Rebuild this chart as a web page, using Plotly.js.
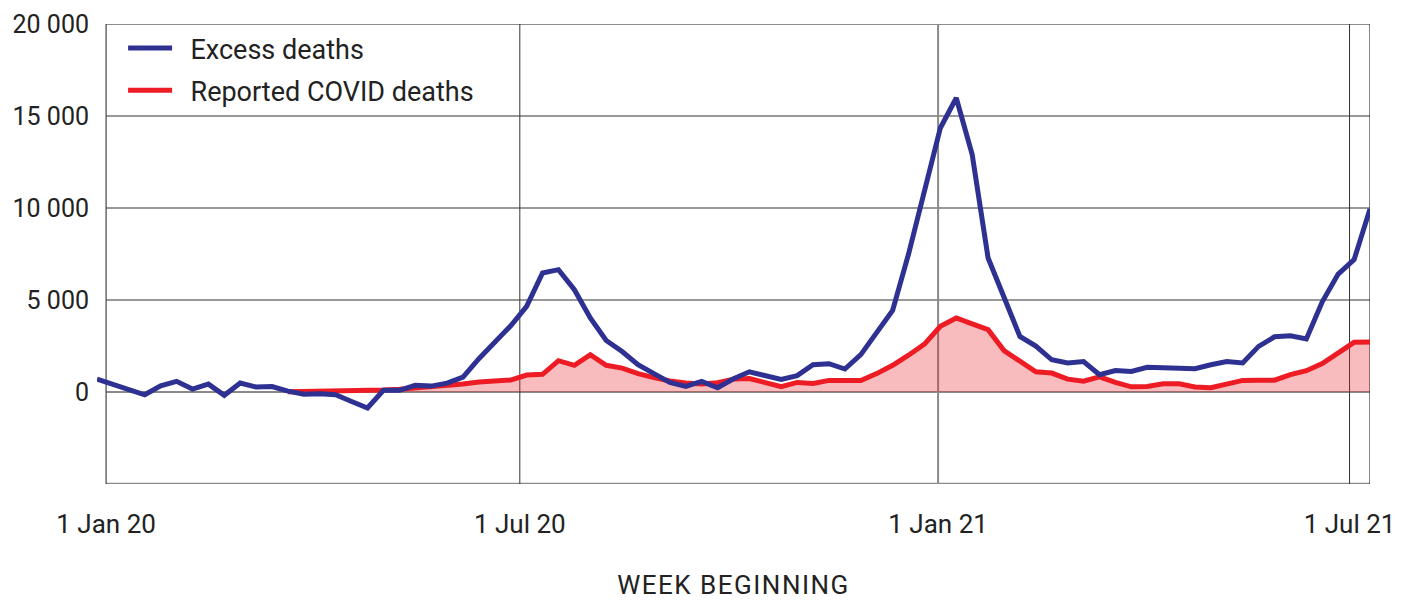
<!DOCTYPE html>
<html>
<head>
<meta charset="utf-8">
<script src="https://cdn.plot.ly/plotly-3.0.1.min.js"></script>
<style>
  html, body { margin: 0; padding: 0; background: #fff; }
  #chart { width: 1403px; height: 601px; }
  .xtitle { letter-spacing: 1.5px; }
</style>
</head>
<body>
<div id="chart"></div>
<script>
const weeks = [
  "2019-12-28","2020-01-04","2020-01-11","2020-01-18","2020-01-25","2020-02-01","2020-02-08","2020-02-15",
  "2020-02-22","2020-02-29","2020-03-07","2020-03-14","2020-03-21","2020-03-28","2020-04-04","2020-04-11",
  "2020-04-18","2020-04-25","2020-05-02","2020-05-09","2020-05-16","2020-05-23","2020-05-30","2020-06-06",
  "2020-06-13","2020-06-20","2020-06-27","2020-07-04","2020-07-11","2020-07-18","2020-07-25","2020-08-01",
  "2020-08-08","2020-08-15","2020-08-22","2020-08-29","2020-09-05","2020-09-12","2020-09-19","2020-09-26",
  "2020-10-03","2020-10-10","2020-10-17","2020-10-24","2020-10-31","2020-11-07","2020-11-14","2020-11-21",
  "2020-11-28","2020-12-05","2020-12-12","2020-12-19","2020-12-26","2021-01-02","2021-01-09","2021-01-16",
  "2021-01-23","2021-01-30","2021-02-06","2021-02-13","2021-02-20","2021-02-27","2021-03-06","2021-03-13",
  "2021-03-20","2021-03-27","2021-04-03","2021-04-10","2021-04-17","2021-04-24","2021-05-01","2021-05-08",
  "2021-05-15","2021-05-22","2021-05-29","2021-06-05","2021-06-12","2021-06-19","2021-06-26","2021-07-03",
  "2021-07-10"
];

const excessDeaths = [
  700, 420, 130, -150, 340, 580, 160, 430,
  -180, 490, 270, 300, 50, -120, -90, -150,
  -520, -870, 90, 90, 360, 320, 480, 810,
  1810, 2700, 3600, 4650, 6470, 6650, 5560, 4020,
  2800, 2200, 1480, 1000, 520, 300, 580, 230,
  720, 1100, 900, 680, 890, 1480, 1540, 1250,
  2030, 3200, 4430, 7500, 10800, 14350, 15980, 12900,
  7280, 5200, 3020, 2500, 1750, 1580, 1660, 940,
  1170, 1120, 1340, 1320, 1300, 1270, 1480, 1660,
  1580, 2480, 3000, 3060, 2880, 4900, 6410, 7190,
  9950
];

const covidDeaths = [
  null, null, null, null, null, null, null, null,
  null, null, null, null, 10, 20, 30, 40,
  50, 60, 110, 150, 210, 260, 330, 430,
  540, 590, 650, 920, 960, 1700, 1450, 2030,
  1450, 1300, 1000, 780, 600, 490, 430, 500,
  700, 730, 500, 290, 520, 460, 630, 630,
  620, 1000, 1450, 2000, 2600, 3570, 4020, 3700,
  3390, 2250, 1660, 1100, 1030, 700, 590, 820,
  520, 280, 300, 450, 450, 270, 230, 440,
  630, 640, 640, 940, 1160, 1550, 2100, 2700,
  2720
];

const seriesNames = ["Excess deaths", "Reported COVID deaths"];
const tickDates = ["2020-01-01", "2020-07-01", "2021-01-01", "2021-07-01"];
const tickLabels = ["1 Jan 20", "1 Jul 20", "1 Jan 21", "1 Jul 21"];
const yTicks = [0, 5000, 10000, 15000, 20000];
const yTickLabels = ["0", "5 000", "10 000", "15 000", "20 000"];

const xStart = "2019-12-28";
const xEnd = "2021-07-10";
const frameStart = "2020-01-01";
const yMin = -5000, yMax = 20000;

const BLUE = "#2e3192";
const RED = "#ed1c24";
const PAD = "\u00a0\u00a0";

const traces = [
  {
    x: weeks, y: covidDeaths, type: "scatter", mode: "lines",
    fill: "tozeroy", fillcolor: "rgba(236,32,40,0.3)",
    line: { width: 0, color: "rgba(0,0,0,0)" },
    showlegend: false, hoverinfo: "skip"
  },
  {
    x: weeks, y: covidDeaths, type: "scatter", mode: "lines",
    name: PAD + seriesNames[1], legendrank: 2, legendgroup: "b",
    line: { color: RED, width: 5, shape: "linear" }
  },
  {
    x: weeks, y: excessDeaths, type: "scatter", mode: "lines",
    name: PAD + seriesNames[0], legendrank: 1, legendgroup: "a",
    line: { color: BLUE, width: 5, shape: "linear" }
  }
];

const shapes = [];
function hline(y, color, width) {
  shapes.push({ type: "line", xref: "x", yref: "y", x0: frameStart, x1: xEnd, y0: y, y1: y,
    line: { color: color, width: width }, layer: "below" });
}
function vline(x, color, width) {
  shapes.push({ type: "line", xref: "x", yref: "y", x0: x, x1: x, y0: yMin, y1: yMax,
    line: { color: color, width: width }, layer: "below" });
}
hline(5000, "#333", 1);
hline(10000, "#333", 1);
hline(15000, "#333", 1);
hline(20000, "#666", 1.5);
hline(0, "#8a8a8a", 2);
hline(yMin, "#8a8a8a", 2.5);
vline(frameStart, "#444", 1.2);
vline("2020-07-01", "#333", 1);
vline("2021-01-01", "#8a8a8a", 2);
vline("2021-07-01", "#333", 1);
vline(xEnd, "#333", 1.2);

const layout = {
  width: 1403, height: 601,
  margin: { l: 97, r: 33, t: 24, b: 117 },
  paper_bgcolor: "#fff", plot_bgcolor: "rgba(0,0,0,0)",
  font: { family: "Roboto, 'Noto Sans', sans-serif", color: "#222" },
  showlegend: true,
  legend: {
    x: 0.0205, y: 1.0, xanchor: "left", yanchor: "top",
    bgcolor: "rgba(255,255,255,0)", font: { size: 27, color: "#222" },
    itemwidth: 44, tracegroupgap: 4, traceorder: "grouped"
  },
  xaxis: {
    type: "date", range: [xStart, xEnd],
    tickmode: "array", tickvals: tickDates, ticktext: tickLabels,
    tickfont: { size: 26, color: "#222" },
    ticks: "outside", ticklen: 17, tickcolor: "rgba(0,0,0,0)",
    showgrid: false, zeroline: false, showline: false,
    title: { text: "WEEK BEGINNING", font: { size: 26, color: "#222" }, standoff: 37 },
    automargin: false, fixedrange: true
  },
  yaxis: {
    range: [yMin, yMax],
    tickmode: "array", tickvals: yTicks, ticktext: yTickLabels,
    tickfont: { size: 25, color: "#222" },
    ticks: "outside", ticklen: 2, tickcolor: "rgba(0,0,0,0)",
    showgrid: false, zeroline: false, showline: false,
    automargin: false, fixedrange: true
  },
  shapes: shapes
};

Plotly.newPlot("chart", traces, layout, { displayModeBar: false, staticPlot: true });
</script>
</body>
</html>
